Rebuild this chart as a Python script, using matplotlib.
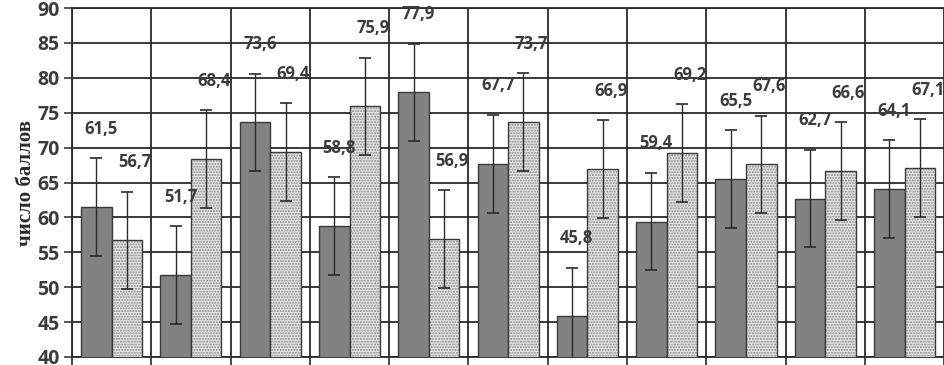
import matplotlib.pyplot as plt
import numpy as np

# значения (две серии по 11 групп)
gray_vals = [61.5, 51.7, 73.6, 58.8, 77.9, 67.7, 45.8, 59.4, 65.5, 62.7, 64.1]
dot_vals = [56.7, 68.4, 69.4, 75.9, 56.9, 73.7, 66.9, 69.2, 67.6, 66.6, 67.1]
err = 7.0
y_ticks = [40, 45, 50, 55, 60, 65, 70, 75, 80, 85, 90]
ylabel = "число баллов"

fig = plt.figure(figsize=(9.45, 3.65), dpi=100)
ax = fig.add_axes([0.0762, 0.022, 0.923, 0.956])

n = len(gray_vals)
x = np.arange(n) + 0.5
w = 0.385

# серая серия
ax.bar(x - w / 2, gray_vals, width=w, color="#828282", edgecolor="#3a3a3a",
       linewidth=1.0, zorder=3)
# точечная серия: заливка с точками + контур
ax.bar(x + w / 2, dot_vals, width=w, color="#e6e6e6", edgecolor="#8a8a8a",
       hatch="......", linewidth=0, zorder=3)
ax.bar(x + w / 2, dot_vals, width=w, color="none", edgecolor="#3a3a3a",
       linewidth=1.0, zorder=4)

ax.errorbar(x - w / 2, gray_vals, yerr=err, fmt="none", ecolor="#2a2a2a",
            elinewidth=1.0, capsize=4, capthick=1.2, zorder=5)
ax.errorbar(x + w / 2, dot_vals, yerr=err, fmt="none", ecolor="#2a2a2a",
            elinewidth=1.0, capsize=4, capthick=1.2, zorder=5)

lab_font = dict(fontsize=12, fontweight="bold", color="#3c3c3c",
                family="Open Sans", ha="center", va="center", zorder=6)
for xi, v in zip(x - w / 2, gray_vals):
    ax.text(xi + 0.06, v + 11.2, f"{v:.1f}".replace(".", ","), **lab_font)
for xi, v in zip(x + w / 2, dot_vals):
    ax.text(xi + 0.1, v + 11.2, f"{v:.1f}".replace(".", ","), **lab_font)

ax.set_xlim(0, n)
ax.set_ylim(40, 90)
ax.set_yticks(y_ticks)
ax.set_xticks(np.arange(n + 1))
ax.set_xticklabels([])
ax.tick_params(axis="y", labelsize=14, colors="#3c3c3c", length=6,
               width=1.2, pad=3)
ax.tick_params(axis="x", length=7, width=1.2, color="#2a2a2a")
for lbl in ax.get_yticklabels():
    lbl.set_fontweight("bold")
    lbl.set_family("Open Sans")

ax.grid(True, axis="both", color="#2a2a2a", linewidth=1.3, zorder=0)
ax.set_axisbelow(True)
for s in ax.spines.values():
    s.set_color("#2a2a2a")
    s.set_linewidth(1.3)
ax.spines["right"].set_visible(False)

ax.set_ylabel(ylabel, fontsize=15, fontweight="bold", family="Liberation Serif",
              color="#2a2a2a", labelpad=1)

fig.savefig("out.png", dpi=100)
